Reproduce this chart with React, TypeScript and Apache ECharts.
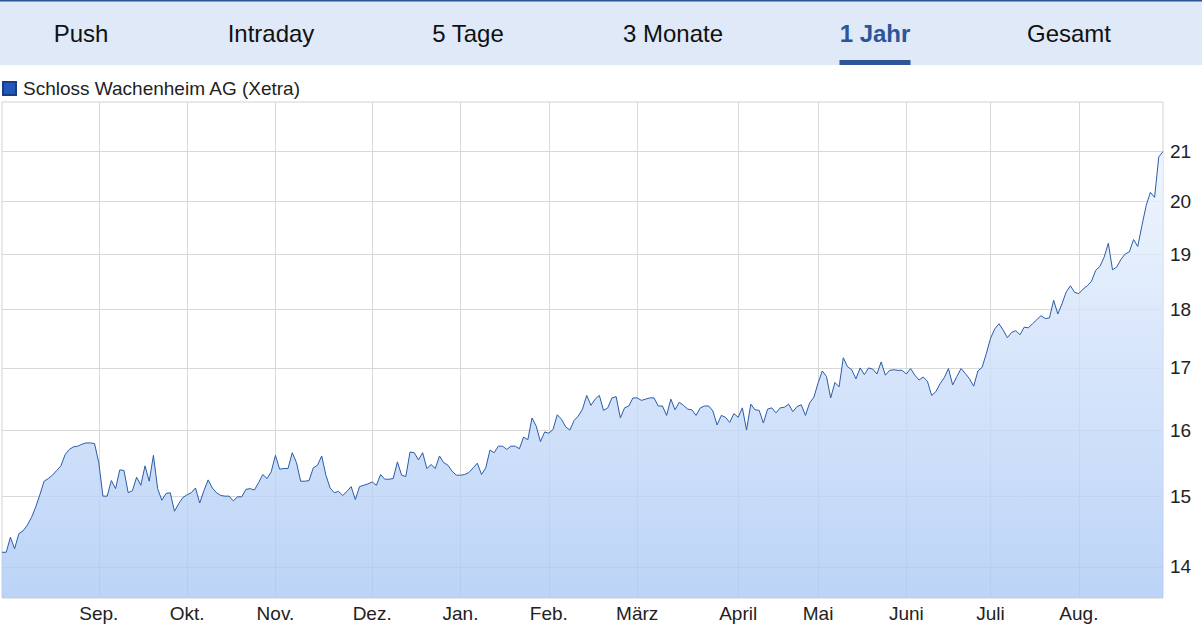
import React, { useEffect, useRef } from "react";
import * as echarts from "echarts";

const FONT = '"Liberation Sans", Arial, sans-serif';

const tabs = ["Push", "Intraday", "5 Tage", "3 Monate", "1 Jahr", "Gesamt"];
const activeTab = "1 Jahr";
const seriesName = "Schloss Wachenheim AG (Xetra)";

const monthLabels = ["Aug. (Vorjahr)", "Sep.", "Okt.", "Nov.", "Dez.", "Jan.", "Feb.", "März", "April", "Mai", "Juni", "Juli", "Aug."];

const augPrev = [14.2, 14.2, 14.41, 14.25, 14.46, 14.5, 14.58, 14.69, 14.84, 15.02, 15.22, 15.26, 15.31, 15.38, 15.45, 15.62, 15.7, 15.74, 15.75, 15.78, 15.8, 15.8, 15.79];
const sep = [15.5, 15.0, 15.0, 15.23, 15.11, 15.39, 15.38, 15.05, 15.08, 15.28, 15.16, 15.45, 15.22, 15.61, 15.11, 14.94, 15.04, 15.05, 14.78, 14.89, 14.98];
const okt = [15.02, 15.05, 15.12, 14.9, 15.08, 15.24, 15.12, 15.05, 15.01, 15.0, 15.0, 14.93, 14.99, 14.99, 15.1, 15.11, 15.09, 15.2, 15.32, 15.26, 15.36];
const nov = [15.61, 15.4, 15.41, 15.41, 15.65, 15.5, 15.22, 15.22, 15.23, 15.42, 15.46, 15.6, 15.31, 15.12, 15.05, 15.07, 15.01, 15.07, 15.14, 14.95, 15.14, 15.16, 15.18];
const dez = [15.21, 15.16, 15.32, 15.25, 15.25, 15.26, 15.51, 15.31, 15.29, 15.66, 15.65, 15.54, 15.65, 15.41, 15.47, 15.41, 15.6, 15.5, 15.46, 15.37, 15.31];
const jan = [15.31, 15.32, 15.35, 15.42, 15.49, 15.32, 15.42, 15.69, 15.65, 15.75, 15.75, 15.7, 15.75, 15.75, 15.71, 15.89, 15.85, 16.19, 16.06, 15.82, 15.97];
const feb = [15.95, 16.01, 16.24, 16.17, 16.05, 16.0, 16.15, 16.22, 16.33, 16.55, 16.39, 16.49, 16.55, 16.31, 16.35, 16.51, 16.53, 16.19, 16.35, 16.38, 16.51];
const mar = [16.51, 16.47, 16.49, 16.51, 16.51, 16.38, 16.38, 16.23, 16.49, 16.32, 16.44, 16.39, 16.33, 16.32, 16.23, 16.35, 16.38, 16.38, 16.3, 16.08, 16.23, 16.2, 16.12, 16.26];
const apr = [16.2, 16.35, 16.0, 16.41, 16.32, 16.31, 16.11, 16.33, 16.35, 16.27, 16.35, 16.36, 16.41, 16.29, 16.37, 16.4, 16.23, 16.43, 16.52];
const mai = [16.75, 16.95, 16.86, 16.51, 16.76, 16.69, 17.17, 17.02, 16.97, 16.82, 17.0, 16.89, 17.0, 16.98, 16.9, 17.1, 16.88, 16.96, 16.97, 16.96, 16.96];
const jun = [16.9, 16.99, 16.88, 16.8, 16.85, 16.78, 16.55, 16.61, 16.74, 16.84, 16.99, 16.72, 16.86, 16.99, 16.91, 16.82, 16.7, 16.95, 17.01, 17.24];
const jul = [17.5, 17.66, 17.75, 17.64, 17.51, 17.6, 17.63, 17.56, 17.69, 17.68, 17.75, 17.82, 17.89, 17.84, 17.85, 18.16, 17.92, 18.1, 18.31, 18.42, 18.3];
const aug = [18.28, 18.36, 18.42, 18.5, 18.7, 18.77, 18.94, 19.2, 18.71, 18.76, 18.9, 19.0, 19.04, 19.27, 19.14, 19.54, 19.92, 20.18, 20.08, 20.89, 21.0];

const months = [augPrev, sep, okt, nov, dez, jan, feb, mar, apr, mai, jun, jul, aug];
const yTicks = [14, 15, 16, 17, 18, 19, 20, 21];

export default function App() {
  const ref = useRef<HTMLDivElement>(null);
  useEffect(() => {
    document.body.style.margin = "0";
    if (!ref.current) return;
    const chart = echarts.init(ref.current, undefined, { renderer: "svg" });

    const categories: string[] = [];
    const values: number[] = [];
    const starts = new Set<number>();
    months.forEach((arr, m) => {
      arr.forEach((v, k) => {
        if (k === 0 && m > 0) starts.add(categories.length);
        categories.push(monthLabels[m] + "|" + k);
        values.push(v);
      });
    });

    const tabCenters = [81, 271, 468, 673, 875, 1069];
    const graphics: any[] = [
      { type: "rect", shape: { x: 0, y: 0, width: 1202, height: 65 }, style: { fill: "#dfe9f8" }, z: 10 },
      { type: "rect", shape: { x: 0, y: 0, width: 1202, height: 1.5 }, style: { fill: "#2d5597" }, z: 11 },
    ];
    tabs.forEach((t, i) => {
      const active = t === activeTab;
      graphics.push({
        type: "text",
        x: tabCenters[i],
        y: 33,
        z: 12,
        style: {
          text: t,
          fill: active ? "#2d5597" : "#111",
          fontSize: 24,
          fontWeight: active ? "bold" : "normal",
          fontFamily: FONT,
          textAlign: "center",
          textVerticalAlign: "middle",
        },
      });
      if (active) {
        graphics.push({ type: "rect", shape: { x: tabCenters[i] - 35.5, y: 60, width: 71, height: 5 }, style: { fill: "#2d5597" }, z: 12 });
      }
    });

    chart.setOption({
      animation: false,
      textStyle: { fontFamily: FONT },
      graphic: graphics,
      legend: {
        left: 2,
        top: 79,
        padding: 0,
        icon: "rect",
        itemWidth: 13,
        itemHeight: 13,
        textStyle: { fontSize: 19, color: "#222", fontFamily: FONT, padding: [0, 0, 0, 2] },
        data: [seriesName],
      },
      grid: {
        left: 2,
        right: 39,
        top: 102,
        bottom: 31,
        show: true,
        borderColor: "#d2d2d2",
        borderWidth: 1,
      },
      xAxis: {
        type: "category",
        data: categories,
        boundaryGap: false,
        axisLine: { show: false },
        axisTick: { show: false },
        axisLabel: {
          interval: (i: number) => starts.has(i),
          formatter: (v: string) => v.split("|")[0],
          color: "#222",
          fontSize: 19,
          margin: 6,
          fontFamily: FONT,
        },
        splitLine: {
          show: true,
          interval: (i: number) => starts.has(i),
          lineStyle: { color: "#d8d8d8", width: 1 },
        },
      },
      yAxis: {
        type: "log",
        logBase: 10,
        min: 13.58,
        max: 22.04,
        position: "right",
        axisLine: { show: false },
        axisTick: { show: false, customValues: yTicks },
        axisLabel: { customValues: yTicks, color: "#222", fontSize: 19, margin: 7, fontFamily: FONT },
        splitLine: { show: true, lineStyle: { color: "#d8d8d8", width: 1 } },
      },
      series: [
        {
          name: seriesName,
          type: "line",
          data: values,
          showSymbol: false,
          symbol: "none",
          lineStyle: { color: "#2b5ca8", width: 1 },
          itemStyle: { color: "#2358b8", borderColor: "#163d86", borderWidth: 1 },
          areaStyle: {
            opacity: 0.8,
            color: new echarts.graphic.LinearGradient(0, 0, 0, 1, [
              { offset: 0, color: "#ecf3fe" },
              { offset: 1, color: "#abc9f5" },
            ]),
          },
        },
      ],
    });
    return () => chart.dispose();
  }, []);
  return <div ref={ref} style={{ width: 1202, height: 629 }} />;
}
